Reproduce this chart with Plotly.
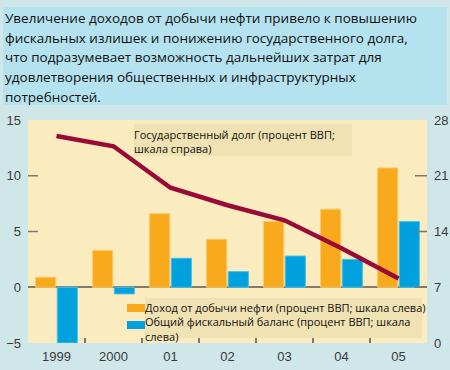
import plotly.graph_objects as go

years = ["1999", "2000", "01", "02", "03", "04", "05"]
oil_revenue = [0.9, 3.3, 6.6, 4.3, 5.9, 7.0, 10.7]
fiscal_balance = [-5.0, -0.6, 2.6, 1.4, 2.8, 2.5, 5.9]
public_debt = [26.0, 24.7, 19.5, 17.3, 15.4, 11.9, 8.1]

left_ticks = [-5, 0, 5, 10, 15]
left_ticktext = ["\u22125", "0", "5", "10", "15"]
right_ticks = [0, 7, 14, 21, 28]

title_lines = [
    "Увеличение доходов от добычи нефти привело к повышению",
    "фискальных излишек и понижению государственного долга,",
    "что подразумевает возможность дальнейших затрат для",
    "удовлетворения общественных и инфраструктурных",
    "потребностей.",
]
debt_label = ["Государственный долг (процент ВВП;", "шкала справа)"]
legend_lines = ["Доход от добычи нефти (процент ВВП; шкала слева)",
                "Общий фискальный баланс (процент ВВП; шкала", "слева)"]

W_FIG, H_FIG = 450, 370
L, R, T, B = 28, 427, 120, 343
PW, PH = R - L, B - T


def px(x):
    return (x - L) / PW


def py(y):
    return (B - y) / PH


ORANGE = "#f8a91c"
BLUE = "#00a1dc"
RED = "#990a36"
FONT = "Open Sans"
TICKFONT = dict(family="Liberation Sans", size=13, color="#3a3a3a")

fig = go.Figure()
fig.add_trace(go.Bar(x=years, y=oil_revenue, marker=dict(color=ORANGE, line=dict(color="#fbc868", width=1)),
                     name=legend_lines[0], showlegend=False))
fig.add_trace(go.Bar(x=years, y=fiscal_balance, marker=dict(color=BLUE, line=dict(color="#4cc0e8", width=1)),
                     name="balance", showlegend=False))
fig.add_trace(go.Scatter(x=years, y=public_debt, yaxis="y2", mode="lines",
                         line=dict(color=RED, width=4.5), showlegend=False))

shapes = []
shapes.append(dict(type="rect", xref="paper", yref="paper", x0=px(3), x1=px(447), y0=py(105), y1=py(7),
                   fillcolor="#b4e2ef", line=dict(width=0), layer="below"))
shapes.append(dict(type="rect", xref="paper", yref="paper", x0=px(134), x1=px(352), y0=py(156), y1=py(124),
                   fillcolor="#f0e2b2", line=dict(width=0), layer="above"))
shapes.append(dict(type="rect", xref="paper", yref="paper", x0=px(145), x1=px(422), y0=py(338), y1=py(298),
                   fillcolor="#f0e2b2", line=dict(width=0), layer="above"))
shapes.append(dict(type="rect", xref="paper", yref="paper", x0=px(127), x1=px(145), y0=py(312), y1=py(304),
                   fillcolor=ORANGE, line=dict(width=0), layer="above"))
shapes.append(dict(type="rect", xref="paper", yref="paper", x0=px(127), x1=px(145), y0=py(329), y1=py(321),
                   fillcolor=BLUE, line=dict(width=0), layer="above"))
for v in left_ticks[2:4]:
    shapes.append(dict(type="line", xref="paper", yref="y", x0=0, x1=px(L + 10), y0=v, y1=v,
                       line=dict(color="#7d776c", width=1.5)))
for v in right_ticks[1:4]:
    shapes.append(dict(type="line", xref="paper", yref="y2", x0=px(R - 12), x1=1, y0=v, y1=v,
                       line=dict(color="#7d776c", width=1.5)))

annotations = []
for i, line in enumerate(title_lines):
    annotations.append(dict(xref="paper", yref="paper", x=px(4), y=py(18.3 + i * 19.6), text=line,
                            showarrow=False, xanchor="left", yanchor="middle", borderpad=0,
                            font=dict(family=FONT, size=13.5, color="#111111")))
annotations.append(dict(xref="paper", yref="paper", x=px(133), y=py(141), text="<br>".join(debt_label),
                        showarrow=False, xanchor="left", yanchor="middle", align="left", borderpad=0,
                        font=dict(family=FONT, size=11, color="#111111")))
annotations.append(dict(xref="paper", yref="paper", x=px(144), y=py(299.3), text="<br>".join(legend_lines),
                        showarrow=False, xanchor="left", yanchor="top", align="left", borderpad=0,
                        font=dict(family=FONT, size=11, color="#111111")))

fig.update_layout(
    width=W_FIG, height=H_FIG,
    margin=dict(l=L, r=W_FIG - R, t=T, b=H_FIG - B, pad=0),
    paper_bgcolor="#d0e7ea",
    plot_bgcolor="#fbecbf",
    barmode="group", bargap=0.24, bargroupgap=0.07,
    font=dict(family="Liberation Sans", size=13, color="#3a3a3a"),
    xaxis=dict(type="category", showgrid=False, zeroline=False, showline=False, automargin=False,
               ticks="inside", ticklen=5, tickwidth=1.5, tickcolor="#7d776c", tickson="boundaries",
               ticklabelstandoff=4, tickfont=TICKFONT),
    yaxis=dict(range=[-5, 15], tickvals=left_ticks, ticktext=left_ticktext, showgrid=False, automargin=False,
               zeroline=True, zerolinecolor="#857b6d", zerolinewidth=1.5, showline=False,
               ticks="", ticklabelstandoff=6, tickfont=TICKFONT),
    yaxis2=dict(range=[0, 28], tickvals=right_ticks, overlaying="y", side="right", showgrid=False,
                automargin=False, zeroline=False, showline=False, ticks="", ticklabelstandoff=6,
                tickfont=TICKFONT),
    shapes=shapes,
    annotations=annotations,
)

fig.write_html("out.html", config={"displayModeBar": False},
               post_script="document.body.style.margin='0';document.body.style.background='#d0e7ea';")
